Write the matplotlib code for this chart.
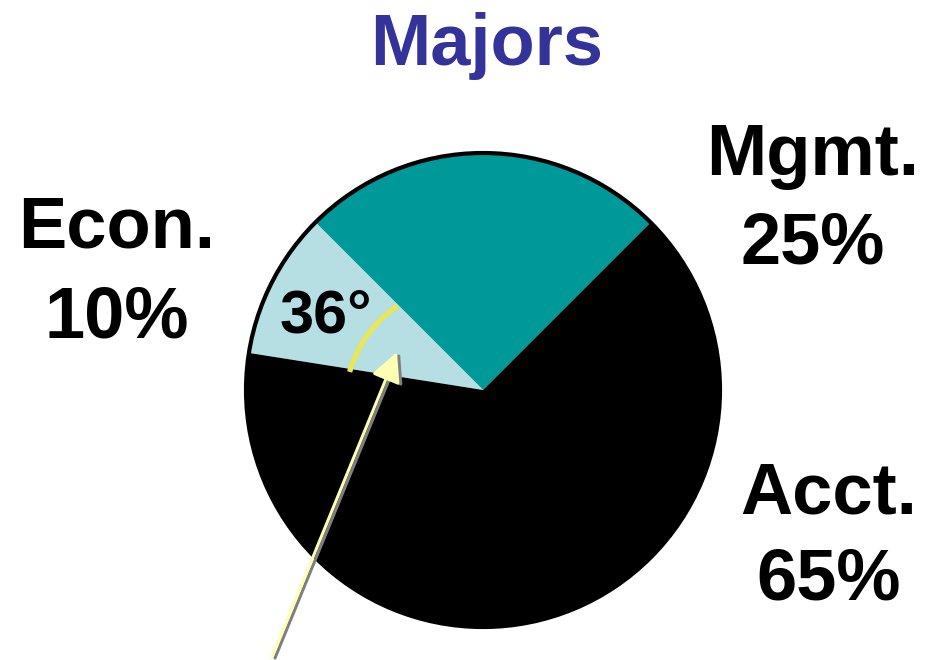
import matplotlib.pyplot as plt
from matplotlib.patches import Arc, Circle

plt.rcParams['font.family'] = ['Liberation Sans', 'DejaVu Sans']

# data
majors = ["Mgmt.", "Econ.", "Acct."]
shares = [25, 10, 65]
slice_colors = ["#009999", "#B5DFE3", "#000000"]
econ_angle = "36°"

W, H = 934, 660


def y(py):
    # pixel row (from top) -> data y (from bottom)
    return H - py


fig = plt.figure(figsize=(W / 100, H / 100), dpi=100)
ax = fig.add_axes([0, 0, 1, 1])

cx, cy, r = 483, y(390), 237
ax.pie(shares, colors=slice_colors, startangle=45, counterclock=True,
       center=(cx, cy), radius=r, wedgeprops=dict(linewidth=0))
ax.add_patch(Circle((cx, cy), r, fill=False, ec="black", lw=3, zorder=3))

# yellow angle arc inside the Econ slice
ax.add_patch(Arc((465, y(405)), 240, 240, theta1=124, theta2=164,
                 color="#E8E65A", lw=3.8, zorder=4))

# pointer arrow with grey shadow
tail, tip = (272, y(657)), (397, y(352))
for dx, dy, col in [(3, -1, "#7F7F7F"), (0, 0, "#FFFFB3")]:
    ax.annotate("", xy=(tip[0] + dx, tip[1] + dy),
                xytext=(tail[0] + dx, tail[1] + dy),
                arrowprops=dict(arrowstyle="-|>,head_length=0.9,head_width=0.45",
                                mutation_scale=20, color=col, lw=2.2,
                                shrinkA=0, shrinkB=0),
                zorder=5)

ax.text(326, y(317), econ_angle, fontsize=44, fontweight="bold",
        ha="center", va="center", zorder=6)

# labels: (name line, pct line) at (x, baseline1, baseline2)
label_pos = {"Mgmt.": (813, 175, 263), "Econ.": (117, 247, 337), "Acct.": (829, 513, 600)}
for name, pct in zip(majors, shares):
    x0, b1, b2 = label_pos[name]
    ax.text(x0, y(b1), name, fontsize=52, fontweight="bold", ha="center", va="baseline")
    ax.text(x0, y(b2), f"{pct}%", fontsize=52, fontweight="bold", ha="center", va="baseline")

ax.text(487, y(65), "Majors", fontsize=52, fontweight="bold", color="#333399",
        ha="center", va="baseline")

ax.set_xlim(0, W)
ax.set_ylim(0, H)
ax.set_aspect("equal")
ax.axis("off")

fig.savefig("out.png", dpi=100)
